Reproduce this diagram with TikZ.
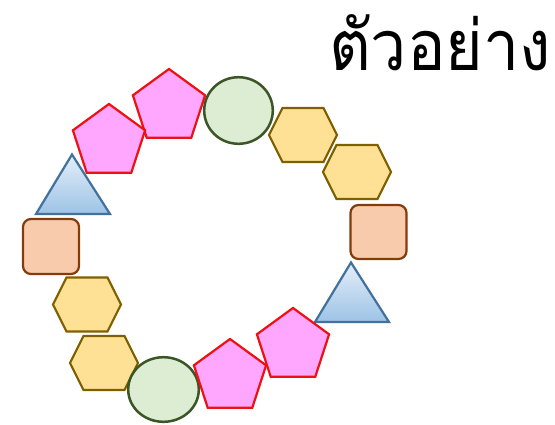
\documentclass[tikz,border=0pt]{standalone}
\usepackage{fontspec}
\newfontfamily\thaifont[Script=Thai,FakeStretch=0.92]{Loma}
\definecolor{pentfill}{HTML}{FFA6FF}
\definecolor{pentline}{HTML}{EE1111}
\definecolor{circfill}{HTML}{DDEDD3}
\definecolor{circline}{HTML}{3B5526}
\definecolor{hexfill}{HTML}{FFE195}
\definecolor{hexline}{HTML}{7F6000}
\definecolor{sqfill}{HTML}{F8CBAD}
\definecolor{sqline}{HTML}{843C0C}
\definecolor{trtop}{HTML}{E4EEF8}
\definecolor{trbot}{HTML}{9DC3E6}
\definecolor{trline}{HTML}{41719C}
\tikzset{
  pentshape/.style={fill=pentfill,draw=pentline,line width=2.2pt,line join=miter},
  circshape/.style={fill=circfill,draw=circline,line width=2.5pt},
  hexshape/.style={fill=hexfill,draw=hexline,line width=2.2pt,line join=miter},
  sqshape/.style={fill=sqfill,draw=sqline,line width=2.2pt,rounded corners=8pt},
  trishape/.style={top color=trtop,bottom color=trbot,draw=trline,line width=2.2pt,line join=miter},
}
\newcommand{\mypent}[2]{%
  \draw[pentshape] (#1,#2-38) -- (#1+36.1,#2-11.7) -- (#1+22.3,#2+30.7) -- (#1-22.3,#2+30.7) -- (#1-36.1,#2-11.7) -- cycle;}
\newcommand{\myhex}[2]{%
  \draw[hexshape] (#1-34,#2) -- (#1-20.5,#2-27) -- (#1+20.5,#2-27) -- (#1+34,#2) -- (#1+20.5,#2+27) -- (#1-20.5,#2+27) -- cycle;}
\begin{document}
\begin{tikzpicture}[x=1pt,y=-1pt]
\useasboundingbox (0,0) rectangle (555,424);
% text
\node[anchor=base west,inner sep=0pt,font=\thaifont\fontsize{70}{76}\selectfont] (title) at (329,70) {ตัวอย่าง};
% top arc
\draw[circshape] (238.5,110.5) ellipse [x radius=34.3,y radius=33.3];
\mypent{169}{107}
\mypent{109}{142}
\myhex{303}{135}
\myhex{357}{172}
\draw[sqshape] (350.5,205) rectangle (406.5,259);
\draw[trishape] (351,262.5) -- (389,322) -- (315,322) -- cycle;
\draw[trishape] (72,154.5) -- (110,214) -- (36,214) -- cycle;
\draw[sqshape] (23,219) rectangle (79,274);
% bottom arc
\myhex{87}{304.5}
\myhex{104}{363}
\draw[circshape] (163.5,389.5) ellipse [x radius=35.3,y radius=32.3];
\mypent{230}{377}
\mypent{293}{346}
\end{tikzpicture}
\end{document}
